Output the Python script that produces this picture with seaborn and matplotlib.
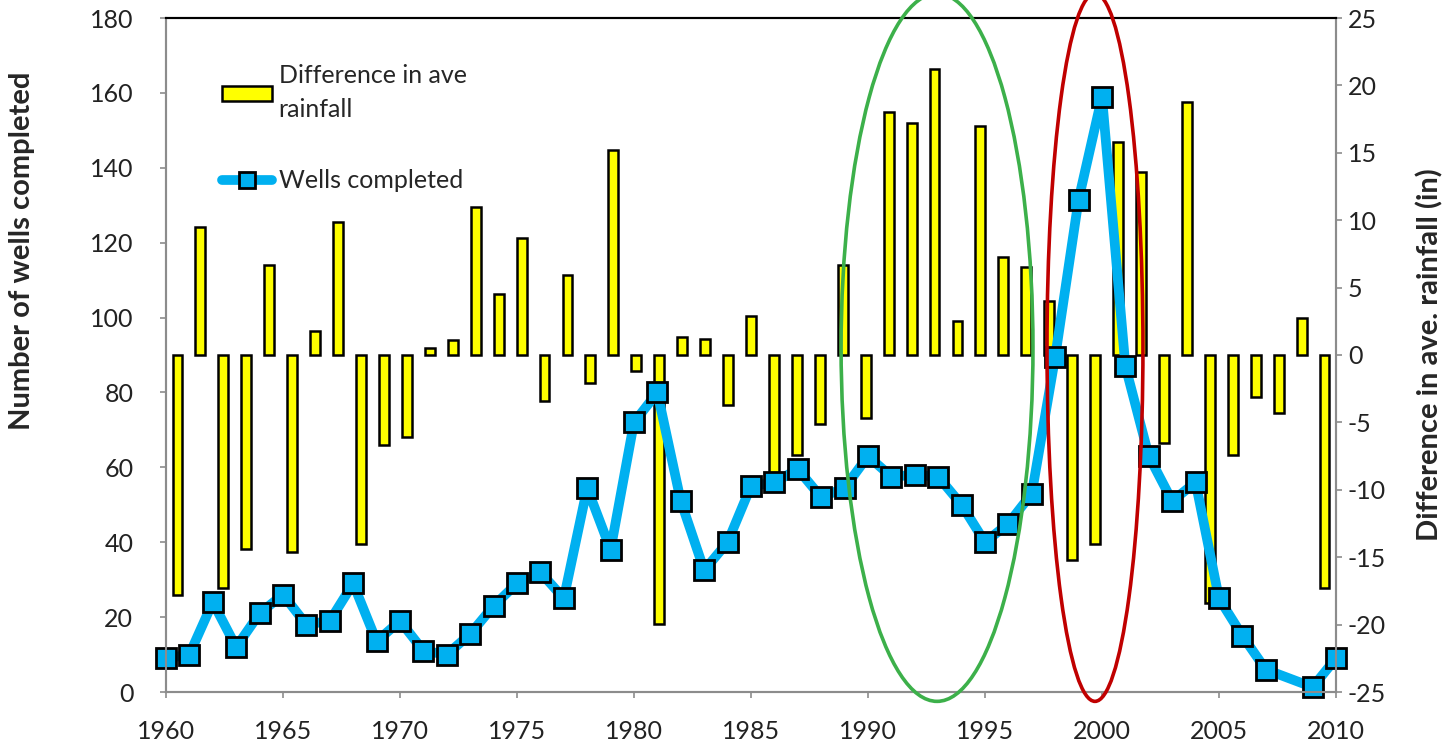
import numpy as np
import pandas as pd
import matplotlib
matplotlib.use("Agg")
import matplotlib.pyplot as plt
import seaborn as sns
from matplotlib.patches import Ellipse, Patch
from matplotlib.lines import Line2D

# data
years = list(range(1960, 2011))
wells_years = [y for y in years if y != 2008]
wells = [9, 10, 24, 12, 21, 26, 18, 19, 29, 13.5, 19, 11, 10, 15.5, 23, 29, 32, 25,
         54.5, 38, 72, 80, 51, 32.5, 40, 55, 56, 59.5, 52, 54.5, 63, 57.5, 58, 57.5,
         50, 40, 45, 53, 89.5, 131.5, 159, 87, 63, 51, 56, 25, 15, 6, 1.3, 9]
rain_diff = [-17.8, 9.5, -17.3, -14.4, 6.7, -14.6, 1.8, 9.9, -14.0, -6.7,
             -6.1, 0.55, 1.1, 11.0, 4.5, 8.7, -3.4, 5.9, -2.1, 15.2,
             -1.15, -19.95, 1.3, 1.2, -3.7, 2.9, -8.8, -7.45, -5.1, 6.7,
             -4.7, 18.0, 17.2, 21.2, 2.5, 17.0, 7.3, 6.5, 4.0, -15.2,
             -14.0, 15.8, 13.6, -6.5, 18.8, -18.4, -7.45, -3.1, -4.3, 2.75,
             -17.3]

wells_df = pd.DataFrame({"year": wells_years, "wells": wells})
# bars sit in 51 equal category slots spread across 1960-2010
slot = 50 / len(years)
bar_x = [1960 + (i + 0.5) * slot for i in range(len(years))]

sns.set_theme(style="white")
plt.rcParams["font.family"] = ["Lato", "DejaVu Sans"]
plt.rcParams["axes.unicode_minus"] = False

fig = plt.figure(figsize=(14.47, 7.45), dpi=100)
fig.patch.set_facecolor("white")
ax = fig.add_axes([166 / 1447, 53 / 745, 1170 / 1447, 674 / 745])
ax2 = ax.twinx()

# bars on right axis
ax2.bar(bar_x, rain_diff, width=0.42, color="#FFFF00", edgecolor="black", linewidth=1.8)
ax2.set_ylim(-25, 25)
ax2.set_yticks(range(-25, 26, 5))

# wells line on left axis, drawn above bars
ax.set_zorder(ax2.get_zorder() + 1)
ax.patch.set_visible(False)
sns.lineplot(data=wells_df, x="year", y="wells", ax=ax, color="#00B0F0", linewidth=7,
             marker="s", markersize=14, markerfacecolor="#00B0F0",
             markeredgecolor="black", markeredgewidth=2, clip_on=False)
ax.set_xlim(1960, 2010)
ax.set_ylim(0, 180)
ax.set_yticks(range(0, 181, 20))
ax.set_xticks(range(1960, 2011, 5))

ax.set_xlabel("")
ax.set_ylabel("Number of wells completed", fontsize=21, fontweight="bold")
ax.yaxis.set_label_coords(-0.112, 0.655)
ax2.set_ylabel("Difference in ave. rainfall (in)", fontsize=21, fontweight="bold", labelpad=22)

for a in (ax, ax2):
    a.tick_params(labelsize=18, colors="#222222", length=4.5, width=1.2)
    for s in a.spines.values():
        s.set_color("#8c8c8c")
        s.set_linewidth(1.5)
    a.spines["top"].set_color("black")
    a.tick_params(axis="both", color="#8c8c8c")
ax.tick_params(axis="x", direction="out", bottom=True, pad=16)
ax.tick_params(axis="y", left=True, direction="out", pad=19)
ax2.tick_params(axis="y", right=True, direction="out", pad=4)

# highlight ellipses
ax.add_patch(Ellipse((1992.95, 92), 8.2, 189, fill=False, edgecolor="#3CB04A",
                     linewidth=2.6, clip_on=False, zorder=10))
ax.add_patch(Ellipse((1999.7, 92), 4.1, 189, fill=False, edgecolor="#C00000",
                     linewidth=2.6, clip_on=False, zorder=10))

handles = [
    Patch(facecolor="#FFFF00", edgecolor="black", linewidth=1.8),
    Line2D([0], [0], color="#00B0F0", linewidth=7, marker="s", markersize=11,
           markerfacecolor="#00B0F0", markeredgecolor="black", markeredgewidth=2),
]
leg = ax.legend(handles, ["Difference in ave\nrainfall", "Wells completed"],
                loc="upper left", bbox_to_anchor=(0.029, 0.965), frameon=False,
                fontsize=18, handlelength=2.0, handleheight=0.5, handletextpad=0.25,
                labelspacing=1.9)
for t in leg.get_texts():
    t.set_linespacing(1.6)

fig.savefig("out.png", dpi=100)
